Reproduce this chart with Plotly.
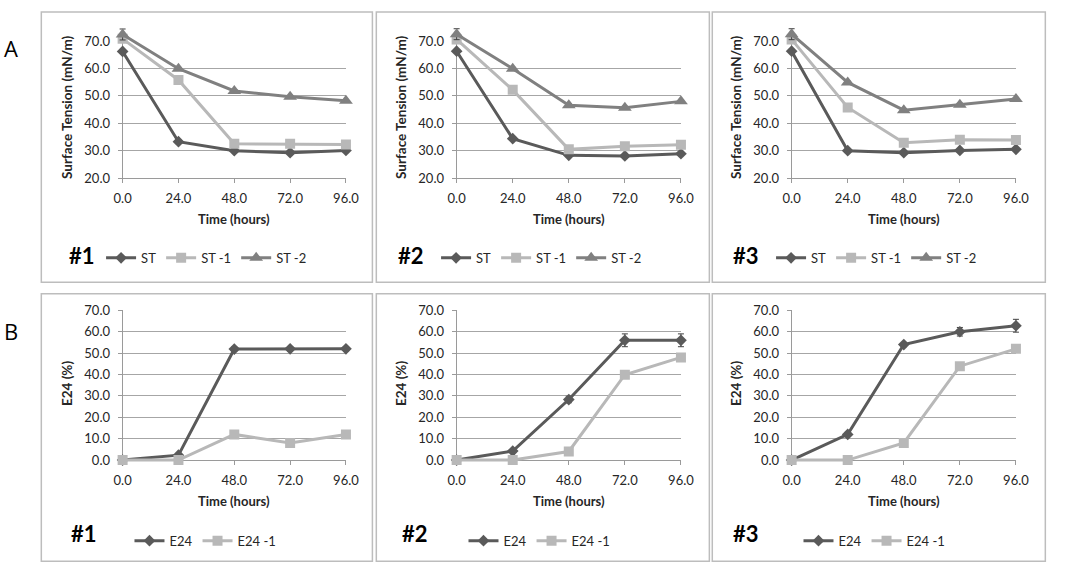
import plotly.graph_objects as go

W, H = 1074, 575
time_h = [0, 24, 48, 72, 96]
x_ticks = [0, 24, 48, 72, 96]
x_tick_labels = ["0.0", "24.0", "48.0", "72.0", "96.0"]

# Surface tension (mN/m), panels #1..#3
st_1 = [66.2, 33.3, 30.0, 29.3, 30.1]
st1_1 = [70.8, 55.8, 32.5, 32.5, 32.3]
st2_1 = [72.4, 59.9, 51.8, 49.7, 48.2]
st_2 = [66.3, 34.4, 28.3, 28.1, 28.9]
st1_2 = [70.6, 52.2, 30.5, 31.6, 32.2]
st2_2 = [72.5, 59.9, 46.6, 45.7, 48.0]
st_3 = [66.3, 30.0, 29.3, 30.1, 30.5]
st1_3 = [70.6, 45.8, 32.9, 34.0, 33.9]
st2_3 = [72.5, 54.9, 44.8, 46.8, 48.9]
st_err = [0.5, 0.5, 0.5, 0.5, 0.5]
st2_err = [2.0, 0.5, 0.5, 0.5, 0.5]

# Emulsification index E24 (%)
e24_1 = [0.0, 2.3, 51.9, 52.0, 52.0]
e24m1_1 = [0.0, 0.0, 12.0, 8.0, 12.0]
e24_2 = [0.0, 4.2, 28.3, 56.0, 56.0]
e24m1_2 = [0.0, 0.0, 4.0, 39.9, 48.0]
e24_3 = [0.0, 12.0, 54.0, 60.0, 62.8]
e24m1_3 = [0.0, 0.0, 8.0, 43.9, 52.0]
e24_err_1 = [0.0, 0.5, 1.0, 1.0, 1.0]
e24_err_2 = [0.0, 0.5, 1.5, 3.0, 3.0]
e24_err_3 = [0.0, 1.0, 1.0, 2.0, 3.0]

st_names = ["ST", "ST -1", "ST -2"]
e_names = ["E24", "E24 -1"]
panel_labels = ["#1", "#2", "#3"]

DARK = "#5a5a5a"
LIGHT = "#b8b8b8"
MID = "#808080"
FONT = "Lato"
TXT = "#262626"
AXC = "#9a9a9a"


def px_x(p):
    return p / W


def px_y(p):
    return 1 - p / H


x_dom_px = [(116, 344), (457, 686), (799, 1028)]
X_RANGE = (0, 96)
top_dom_px = (34, 175)
TOP_RANGE = (20, 70)
bot_dom_px = (311, 465)
BOT_RANGE = (0, 70)
PAD = 8  # data-unit padding for the (invisible) data axes


def padded(dom_px, rng, pad, vertical=False):
    s = (dom_px[1] - dom_px[0]) / (rng[1] - rng[0])
    r = (rng[0] - pad, rng[1] + pad)
    d = (dom_px[0] - pad * s, dom_px[1] + pad * s)
    if vertical:
        return r, [px_y(d[1]), px_y(d[0])]
    return r, [px_x(d[0]), px_x(d[1])]


fig = go.Figure()

top_series = [
    (st_1, st1_1, st2_1),
    (st_2, st1_2, st2_2),
    (st_3, st1_3, st2_3),
]
bot_series = [
    (e24_1, e24m1_1, e24_err_1),
    (e24_2, e24m1_2, e24_err_2),
    (e24_3, e24m1_3, e24_err_3),
]

layout = dict(
    width=W, height=H, margin=dict(l=0, r=0, t=0, b=0),
    paper_bgcolor="white", plot_bgcolor="rgba(0,0,0,0)",
    font=dict(family=FONT, color=TXT, size=13),
    showlegend=True,
)


def err(arr):
    return dict(type="data", array=arr, visible=True, color="#404040", thickness=1, width=3)


def axname(kind, n):
    return kind + "axis" + ("" if n == 1 else str(n))


def axref(kind, n):
    return kind + ("" if n == 1 else str(n))


shapes = []
annotations = []

TICKFONT = dict(size=13, family=FONT, color=TXT)

for i in range(3):
    for row in range(2):
        n_disp = 2 * i + row + 1          # display axes 1..6
        n_data = n_disp + 6               # data axes 7..12
        dom_y_px = top_dom_px if row == 0 else bot_dom_px
        yr = TOP_RANGE if row == 0 else BOT_RANGE
        layout[axname("x", n_disp)] = dict(
            domain=[px_x(x_dom_px[i][0]), px_x(x_dom_px[i][1])], anchor=axref("y", n_disp),
            range=list(X_RANGE), tickvals=x_ticks, ticktext=x_tick_labels,
            showgrid=False, showline=True, linecolor=AXC, linewidth=1,
            ticks="outside", ticklen=4, tickcolor=AXC, zeroline=False,
            ticklabelstandoff=4, tickfont=TICKFONT, fixedrange=True)
        layout[axname("y", n_disp)] = dict(
            domain=[px_y(dom_y_px[1]), px_y(dom_y_px[0])], anchor=axref("x", n_disp),
            range=list(yr), dtick=10, tickformat=".1f",
            showgrid=True, gridcolor="#a6a6a6", gridwidth=1, showline=True,
            linecolor=AXC, linewidth=1, ticks="outside", ticklen=4, tickcolor=AXC,
            ticklabelstandoff=5, zeroline=False, tickfont=TICKFONT, fixedrange=True)
        rx, dx = padded(x_dom_px[i], X_RANGE, PAD)
        ry, dy = padded(dom_y_px, yr, PAD, vertical=True)
        layout[axname("x", n_data)] = dict(domain=dx, anchor=axref("y", n_data), range=list(rx),
                                           visible=False, fixedrange=True)
        layout[axname("y", n_data)] = dict(domain=dy, anchor=axref("x", n_data), range=list(ry),
                                           visible=False, fixedrange=True)
        fig.add_trace(go.Scatter(x=[], y=[], xaxis=axref("x", n_disp), yaxis=axref("y", n_disp),
                                 showlegend=False, hoverinfo="skip"))

for i in range(3):
    n_t = 2 * i + 1 + 6
    n_b = 2 * i + 2 + 6
    lg_t = "legend" if i == 0 else f"legend{2 * i + 1}"
    lg_b = f"legend{2 * i + 2}"

    s0, s1, s2 = top_series[i]
    specs = [(s0, DARK, "diamond", 9, st_err), (s1, LIGHT, "square", 10, st_err),
             (s2, MID, "triangle-up", 12, st2_err)]
    for k, (vals, col, sym, sz, e) in enumerate(specs):
        fig.add_trace(go.Scatter(
            x=time_h, y=vals, name=st_names[k], mode="lines+markers",
            line=dict(color=col, width=3), marker=dict(symbol=sym, size=sz, color=col),
            error_y=err(e), xaxis=axref("x", n_t), yaxis=axref("y", n_t), legend=lg_t))
    b0, b1, be = bot_series[i]
    specs_b = [(b0, DARK, "diamond", 9, be), (b1, LIGHT, "square", 10, [0] * 5)]
    for k, (vals, col, sym, sz, e) in enumerate(specs_b):
        fig.add_trace(go.Scatter(
            x=time_h, y=vals, name=e_names[k], mode="lines+markers",
            line=dict(color=col, width=3), marker=dict(symbol=sym, size=sz, color=col),
            error_y=err(e), xaxis=axref("x", n_b), yaxis=axref("y", n_b), legend=lg_b))

    leg_t_x = [94, 436, 778][i]
    leg_b_x = [123, 464, 806][i]
    lcommon = dict(orientation="h", xanchor="left", yanchor="middle", bgcolor="rgba(0,0,0,0)",
                   font=dict(size=13, family=FONT, color=TXT), itemwidth=30, tracegroupgap=0)
    layout[lg_t] = dict(x=px_x(leg_t_x), y=px_y(257), **lcommon)
    layout[lg_b] = dict(x=px_x(leg_b_x), y=px_y(548), **lcommon)

    cx = (x_dom_px[i][0] + x_dom_px[i][1]) / 2
    for yy in (217, 507):
        annotations.append(dict(text="<b>Time (hours)</b>", x=px_x(cx), y=px_y(yy), xref="paper",
                                yref="paper", xanchor="center", yanchor="middle",
                                showarrow=False, font=dict(size=13, family=FONT, color=TXT)))
    ytx = x_dom_px[i][0] - 57
    annotations.append(dict(text="<b>Surface Tension (mN/m)</b>", x=px_x(ytx), y=px_y(102),
                            xref="paper", yref="paper", xanchor="center", yanchor="middle",
                            showarrow=False, textangle=-90, font=dict(size=13.5, family=FONT, color=TXT)))
    annotations.append(dict(text="<b>E24 (%)</b>", x=px_x(ytx), y=px_y(386), xref="paper", yref="paper",
                            xanchor="center", yanchor="middle",
                            showarrow=False, textangle=-90, font=dict(size=13.5, family=FONT, color=TXT)))
    lx_t = [75, 410, 752][i]
    lx_b = [77, 415, 752][i]
    annotations.append(dict(text="<b>" + panel_labels[i] + "</b>", x=px_x(lx_t), y=px_y(255),
                            xref="paper", yref="paper", xanchor="center", yanchor="middle",
                            showarrow=False, font=dict(size=22, family=FONT, color="black")))
    annotations.append(dict(text="<b>" + panel_labels[i] + "</b>", x=px_x(lx_b), y=px_y(541),
                            xref="paper", yref="paper", xanchor="center", yanchor="middle",
                            showarrow=False, font=dict(size=22, family=FONT, color="black")))

frames_x = [(33, 371), (375, 715), (718, 1058)]
for (x0, x1) in frames_x:
    for (y0, y1) in [(4, 282), (294, 569)]:
        shapes.append(dict(type="rect", xref="paper", yref="paper",
                           x0=px_x(x0), x1=px_x(x1), y0=px_y(y0), y1=px_y(y1),
                           line=dict(color="#bdbdbd", width=1.5), fillcolor="rgba(0,0,0,0)",
                           layer="below"))

annotations.append(dict(text="A", x=px_x(11), y=px_y(41), xref="paper", yref="paper", xanchor="right",
                        yanchor="middle", showarrow=False,
                        font=dict(size=22, family="Open Sans", color="black")))
annotations.append(dict(text="B", x=px_x(11), y=px_y(332), xref="paper", yref="paper", xanchor="right",
                        yanchor="middle", showarrow=False,
                        font=dict(size=22, family="Open Sans", color="black")))

layout["shapes"] = shapes
layout["annotations"] = annotations
fig.update_layout(**layout)
fig.write_html("out.html")
